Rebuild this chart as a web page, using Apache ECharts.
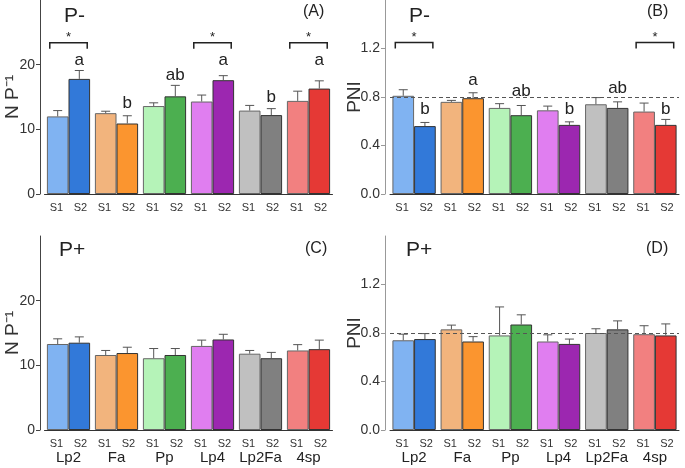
<!DOCTYPE html>
<html>
<head>
<meta charset="utf-8">
<script src="https://cdn.jsdelivr.net/npm/echarts@6/dist/echarts.min.js"></script>
<style>
  html, body { margin: 0; padding: 0; background: #fff; }
  #chart { width: 685px; height: 468px; }
</style>
</head>
<body>
<div id="chart"></div>
<script>
// groups and sub-labels
const groups = ['Lp2', 'Fa', 'Pp', 'Lp4', 'Lp2Fa', '4sp'];
const seasons = ['S1', 'S2'];

// (A) N P-1, P-
const npMinusS1 = [12.0, 12.5, 13.6, 14.3, 12.9, 14.4];
const npMinusS1Err = [0.9, 0.3, 0.5, 1.0, 0.8, 1.5];
const npMinusS2 = [17.8, 10.9, 15.1, 17.6, 12.2, 16.3];
const npMinusS2Err = [1.3, 1.2, 1.7, 0.7, 1.0, 1.2];
const npMinusLetters = ['a', 'b', 'ab', 'a', 'b', 'a'];
const npMinusLetterAt = [20.6, 14.0, 18.4, 20.6, 15.0, 20.6];
const npMinusStarGroups = [0, 3, 5];
const npMinusStarAt = 23.4;

// (B) PNI, P-
const pniMinusS1 = [0.81, 0.76, 0.71, 0.69, 0.74, 0.68];
const pniMinusS1Err = [0.05, 0.012, 0.035, 0.035, 0.055, 0.07];
const pniMinusS2 = [0.56, 0.79, 0.65, 0.57, 0.71, 0.57];
const pniMinusS2Err = [0.03, 0.045, 0.08, 0.025, 0.05, 0.045];
const pniMinusLetters = ['b', 'a', 'ab', 'b', 'ab', 'b'];
const pniMinusLetterAt = [0.70, 0.94, 0.85, 0.70, 0.87, 0.70];
const pniMinusStarGroups = [0, 5];
const pniMinusStarAt = 1.25;

// (C) N P-1, P+
const npPlusS1 = [13.3, 11.6, 11.1, 13.0, 11.8, 12.3];
const npPlusS1Err = [0.8, 0.7, 1.5, 0.9, 0.5, 0.9];
const npPlusS2 = [13.5, 11.9, 11.6, 14.0, 11.1, 12.5];
const npPlusS2Err = [0.9, 0.9, 1.0, 0.8, 0.9, 1.4];

// (D) PNI, P+
const pniPlusS1 = [0.74, 0.83, 0.78, 0.73, 0.80, 0.79];
const pniPlusS1Err = [0.05, 0.035, 0.235, 0.055, 0.035, 0.07];
const pniPlusS2 = [0.75, 0.73, 0.87, 0.71, 0.83, 0.78];
const pniPlusS2Err = [0.045, 0.04, 0.08, 0.04, 0.07, 0.095];

const pniReference = 0.8;

const lightColors = ['#80b3f2', '#f2b47d', '#b5f3b8', '#e07ef0', '#c0c0c0', '#f28080'];
const darkColors = ['#3279d9', '#fb952f', '#4caf50', '#9c27b0', '#808080', '#e53935'];

const FONT = '"Liberation Sans", Arial, sans-serif';
const CAT_GAP = 0.1;

const chart = echarts.init(document.getElementById('chart'));

const grids = [], xAxes = [], yAxes = [], series = [], titles = [];

function errorItem(params, api) {
  const g = api.value(0), mean = api.value(1), err = api.value(2), side = api.value(3);
  const base = api.coord([g, mean]);
  const top = api.coord([g, mean + err]);
  const band = api.size([1, 0])[0];
  const barW = band * (1 - CAT_GAP) / 2;
  const x = base[0] + (side === 0 ? -barW / 2 : barW / 2);
  const st = { stroke: '#555', lineWidth: 1 };
  return {
    type: 'group',
    children: [
      { type: 'line', shape: { x1: x, y1: base[1], x2: x, y2: top[1] }, style: st },
      { type: 'line', shape: { x1: x - 4.5, y1: top[1], x2: x + 4.5, y2: top[1] }, style: st }
    ]
  };
}

function letterItem(letters) {
  return function (params, api) {
    const p = api.coord([api.value(0), api.value(1)]);
    const band = api.size([1, 0])[0];
    const barW = band * (1 - CAT_GAP) / 2;
    return {
      type: 'text',
      style: {
        x: p[0] + barW / 2, y: p[1], text: letters[params.dataIndex],
        fill: '#222', font: '17px ' + FONT, align: 'center', verticalAlign: 'middle'
      }
    };
  };
}

function bracketItem(params, api) {
  const p = api.coord([api.value(0), api.value(1)]);
  const half = api.size([1, 0])[0] * 0.39;
  return {
    type: 'group',
    children: [
      {
        type: 'polyline',
        shape: { points: [[p[0] - half, p[1] + 6], [p[0] - half, p[1]], [p[0] + half, p[1]], [p[0] + half, p[1] + 6]] },
        style: { stroke: '#222', lineWidth: 1.5, fill: null }
      },
      {
        type: 'text',
        style: { x: p[0], y: p[1] + 1, text: '*', fill: '#222', font: '13px ' + FONT, align: 'center', verticalAlign: 'bottom' }
      }
    ]
  };
}

function addPanel(cfg) {
  const gi = grids.length;
  grids.push({ left: cfg.left, right: cfg.right, top: cfg.top, bottom: cfg.bottom, outerBoundsMode: 'none' });
  const xi = xAxes.length;
  xAxes.push({
    type: 'category', gridIndex: gi, position: 'bottom', data: groups,
    axisLine: { lineStyle: { color: '#333', width: 1 } },
    axisTick: { show: false },
    axisLabel: { show: cfg.groupLabels, interval: 0, margin: 20, fontSize: 15, color: '#222', fontFamily: FONT }
  });
  const subLabels = [];
  groups.forEach(function () { subLabels.push(seasons[0], seasons[1]); });
  xAxes.push({
    type: 'category', gridIndex: gi, position: 'bottom', data: subLabels,
    axisLine: { show: false }, axisTick: { show: false },
    axisLabel: { margin: 8, fontSize: 11, color: '#333', fontFamily: FONT, interval: 0 }
  });
  const yi = yAxes.length;
  yAxes.push({
    type: 'value', gridIndex: gi, min: 0, max: cfg.max, interval: cfg.interval,
    offset: cfg.offset,
    name: cfg.yName, nameLocation: 'middle', nameGap: cfg.nameGap, nameMoveOverlap: false,
    nameTextStyle: { fontSize: 19, color: '#333', fontFamily: FONT },
    axisLine: { show: true, lineStyle: { color: cfg.yLineColor } },
    axisTick: { show: true, length: 4, lineStyle: { color: cfg.yLineColor } },
    splitLine: { show: false },
    axisLabel: {
      fontSize: 14, color: '#333', fontFamily: FONT, showMaxLabel: false, margin: 5,
      formatter: cfg.decimals ? function (v) { return v.toFixed(cfg.decimals); } : '{value}'
    }
  });
  const s1 = cfg.s1.map(function (v, i) { return { value: v, itemStyle: { color: lightColors[i], borderColor: '#666' } }; });
  const s2 = cfg.s2.map(function (v, i) { return { value: v, itemStyle: { color: darkColors[i], borderColor: '#333' } }; });
  const barBase = {
    type: 'bar', xAxisIndex: xi, yAxisIndex: yi, barGap: '0%', barCategoryGap: (CAT_GAP * 100) + '%',
    itemStyle: { borderWidth: 1 }, silent: true
  };
  const s1Series = Object.assign({ name: seasons[0], data: s1 }, barBase);
  if (cfg.refLine != null) {
    s1Series.markLine = {
      silent: true, symbol: 'none', label: { show: false },
      lineStyle: { color: '#555', type: [4, 3], width: 1 },
      data: [{ yAxis: cfg.refLine }]
    };
  }
  series.push(s1Series);
  series.push(Object.assign({ name: seasons[1], data: s2 }, barBase));
  const errData = [];
  cfg.s1.forEach(function (v, i) { errData.push([i, v, cfg.s1Err[i], 0]); });
  cfg.s2.forEach(function (v, i) { errData.push([i, v, cfg.s2Err[i], 1]); });
  series.push({
    type: 'custom', xAxisIndex: xi, yAxisIndex: yi, renderItem: errorItem,
    data: errData, z: 5, silent: true
  });
  if (cfg.letters) {
    series.push({
      type: 'custom', xAxisIndex: xi, yAxisIndex: yi, renderItem: letterItem(cfg.letters),
      data: cfg.letterAt.map(function (h, i) { return [i, h]; }), z: 6, silent: true
    });
  }
  if (cfg.starGroups) {
    series.push({
      type: 'custom', xAxisIndex: xi, yAxisIndex: yi, renderItem: bracketItem,
      data: cfg.starGroups.map(function (g) { return [g, cfg.starAt]; }), z: 6, silent: true
    });
  }
  titles.push({ text: cfg.phos, left: cfg.phosPos[0], top: cfg.phosPos[1], padding: 0,
    textStyle: { fontSize: 21, fontWeight: 'normal', color: '#222', fontFamily: FONT } });
  titles.push({ text: cfg.tag, left: cfg.tagPos[0], top: cfg.tagPos[1], padding: 0,
    textStyle: { fontSize: 16, fontWeight: 'normal', color: '#222', fontFamily: FONT } });
}

addPanel({
  left: 44.5, right: 352.5, top: 0, bottom: 274, max: 30, interval: 10, offset: 4.5,
  yName: 'N P⁻¹', nameGap: 18, yLineColor: '#444', groupLabels: false,
  s1: npMinusS1, s1Err: npMinusS1Err, s2: npMinusS2, s2Err: npMinusS2Err,
  letters: npMinusLetters, letterAt: npMinusLetterAt,
  starGroups: npMinusStarGroups, starAt: npMinusStarAt,
  phos: 'P-', phosPos: [64, 6], tag: '(A)', tagPos: [303, 4]
});
addPanel({
  left: 390, right: 6, top: 0, bottom: 274, max: 1.6, interval: 0.4, offset: 5, decimals: 1,
  yName: 'PNI', nameGap: 21, yLineColor: '#999', groupLabels: false, refLine: pniReference,
  s1: pniMinusS1, s1Err: pniMinusS1Err, s2: pniMinusS2, s2Err: pniMinusS2Err,
  letters: pniMinusLetters, letterAt: pniMinusLetterAt,
  starGroups: pniMinusStarGroups, starAt: pniMinusStarAt,
  phos: 'P-', phosPos: [409, 6], tag: '(B)', tagPos: [647, 4]
});
addPanel({
  left: 44.5, right: 352.5, top: 236, bottom: 38, max: 30, interval: 10, offset: 4.5,
  yName: 'N P⁻¹', nameGap: 18, yLineColor: '#444', groupLabels: true,
  s1: npPlusS1, s1Err: npPlusS1Err, s2: npPlusS2, s2Err: npPlusS2Err,
  phos: 'P+', phosPos: [59, 240], tag: '(C)', tagPos: [305, 241]
});
addPanel({
  left: 390, right: 6, top: 236, bottom: 38, max: 1.6, interval: 0.4, offset: 5, decimals: 1,
  yName: 'PNI', nameGap: 21, yLineColor: '#999', groupLabels: true, refLine: pniReference,
  s1: pniPlusS1, s1Err: pniPlusS1Err, s2: pniPlusS2, s2Err: pniPlusS2Err,
  phos: 'P+', phosPos: [406, 240], tag: '(D)', tagPos: [646, 241]
});

chart.setOption({
  animation: false,
  backgroundColor: '#fff',
  textStyle: { fontFamily: FONT },
  title: titles,
  grid: grids,
  xAxis: xAxes,
  yAxis: yAxes,
  series: series
});
</script>
</body>
</html>
